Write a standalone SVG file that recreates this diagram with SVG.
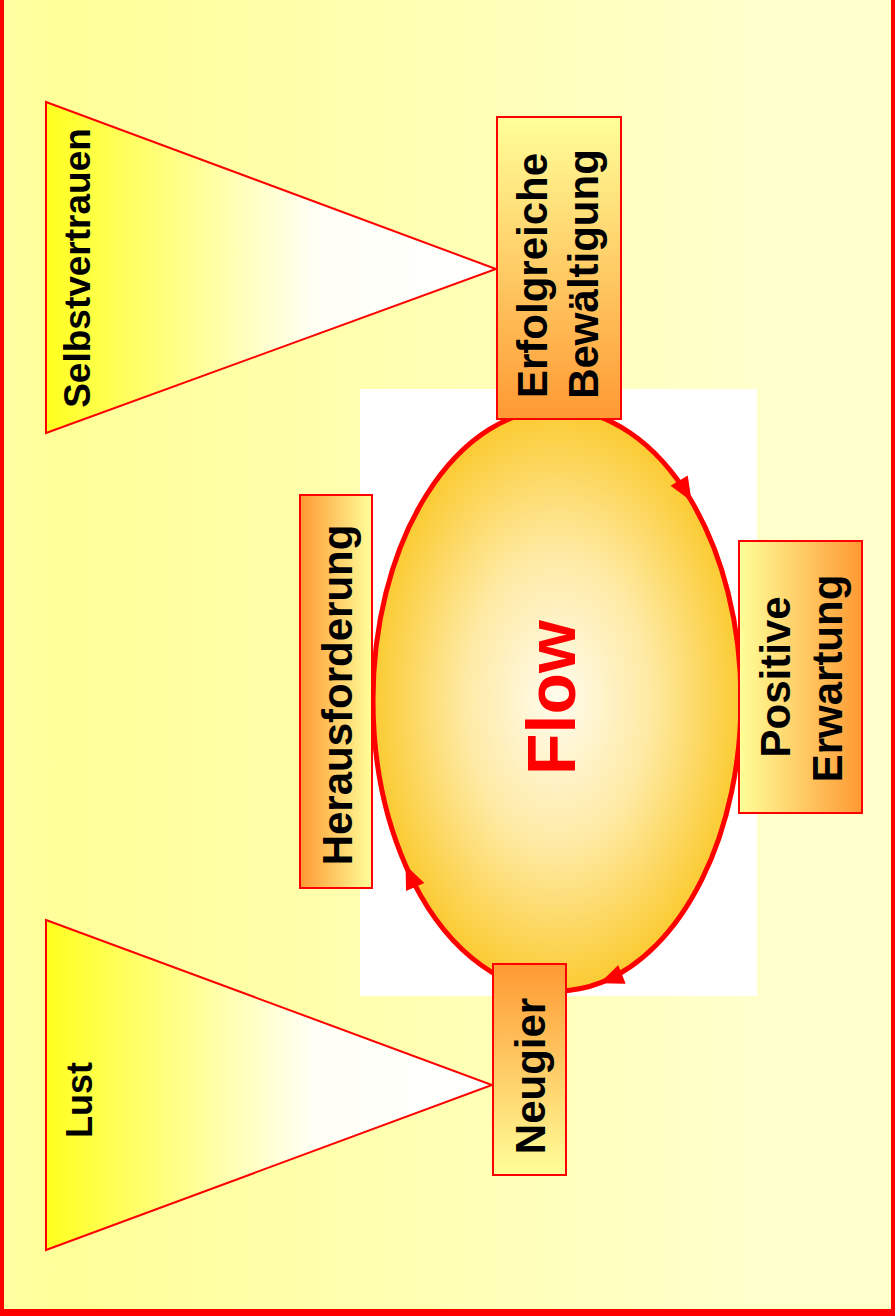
<svg xmlns="http://www.w3.org/2000/svg" width="895" height="1316" viewBox="0 0 895 1316">
  <defs>
    <linearGradient id="bgGrad" x1="0" y1="0" x2="1" y2="0">
      <stop offset="0" stop-color="#ffffa3"/>
      <stop offset="0.07" stop-color="#ffff99"/>
      <stop offset="0.85" stop-color="#ffffcc"/>
      <stop offset="1" stop-color="#ffffcc"/>
    </linearGradient>
    <linearGradient id="triGrad" x1="0" y1="0" x2="1" y2="0">
      <stop offset="0" stop-color="#ffff1e"/>
      <stop offset="0.6" stop-color="#fffff6"/>
      <stop offset="1" stop-color="#ffffff"/>
    </linearGradient>
    <radialGradient id="flowGrad" cx="0.5" cy="0.5" r="0.5">
      <stop offset="0" stop-color="#fffcee"/>
      <stop offset="0.5" stop-color="#feeaa4"/>
      <stop offset="1" stop-color="#fbcb32"/>
    </radialGradient>
    <!-- box fills: pale yellow fading to orange in four directions -->
    <linearGradient id="boxDown" x1="0" y1="0" x2="0" y2="1">
      <stop offset="0" stop-color="#ffff99"/>
      <stop offset="1" stop-color="#ff9933"/>
    </linearGradient>
    <linearGradient id="boxUp" x1="0" y1="1" x2="0" y2="0">
      <stop offset="0" stop-color="#ffff99"/>
      <stop offset="1" stop-color="#ff9933"/>
    </linearGradient>
    <linearGradient id="boxRight" x1="0" y1="0" x2="1" y2="0">
      <stop offset="0" stop-color="#ffff99"/>
      <stop offset="1" stop-color="#ff9933"/>
    </linearGradient>
    <linearGradient id="boxLeft" x1="1" y1="0" x2="0" y2="0">
      <stop offset="0" stop-color="#ffff99"/>
      <stop offset="1" stop-color="#ff9933"/>
    </linearGradient>
    <marker id="arrow" markerUnits="userSpaceOnUse" markerWidth="26" markerHeight="22" refX="22" refY="10" orient="auto" overflow="visible">
      <path d="M0,0 L24,10 L0,20 z" fill="#ff0000"/>
    </marker>
  </defs>
  <style>
    .box { stroke: #ff0000; stroke-width: 2; }
    .tri { fill: url(#triGrad); stroke: #ff0000; stroke-width: 2; }
    .lbl { font-family: "Liberation Sans", Arial, sans-serif; font-weight: bold; fill: #000000; text-anchor: middle; }
    .ring { fill: none; stroke: #ff0000; stroke-width: 5; }
  </style>

  <!-- background and frame -->
  <rect x="0" y="0" width="895" height="1316" fill="url(#bgGrad)"/>
  <rect x="2" y="-6" width="891" height="1317" fill="none" stroke="#ff0000" stroke-width="4"/>
  <rect x="0" y="1309" width="895" height="7" fill="#ff0000"/>

  <!-- side triangles -->
  <g id="selbstvertrauen">
    <polygon class="tri" points="46,102 46,433 496,269"/>
    <text class="lbl" font-size="37" transform="translate(90,268) rotate(-90)">Selbstvertrauen</text>
  </g>
  <g id="lust">
    <polygon class="tri" points="46,920 46,1250 492,1085"/>
    <text class="lbl" font-size="36" transform="translate(92,1100) rotate(-90)">Lust</text>
  </g>

  <!-- central flow ellipse -->
  <g id="flow">
    <rect x="360" y="389" width="397" height="607" fill="#ffffff"/>
    <ellipse cx="557" cy="700" rx="184" ry="291" fill="url(#flowGrad)"/>
    <text class="lbl" font-size="68" style="fill:#ff0000" transform="translate(575,697.5) rotate(-90)">Flow</text>
  </g>

  <!-- cycle around the ellipse (clockwise) -->
  <g id="connectors">
    <path class="ring" marker-mid="url(#arrow)" d="M557,409 A184,291 0 0 1 690.5,499.5 A184,291 0 0 1 741,700"/>
    <path class="ring" marker-mid="url(#arrow)" d="M741,700 A184,291 0 0 1 601.5,982.4 A184,291 0 0 1 557,991"/>
    <path class="ring" marker-mid="url(#arrow)" d="M557,991 A184,291 0 0 1 406.3,866.9 A184,291 0 0 1 373,700"/>
    <path class="ring" d="M373,700 A184,291 0 0 1 557,409"/>
  </g>

  <!-- stages of the cycle -->
  <g id="erfolgreiche-bewaeltigung">
    <rect class="box" x="497" y="117" width="124" height="302" fill="url(#boxDown)"/>
    <text class="lbl" font-size="42" transform="translate(547,275.5) rotate(-90)">Erfolgreiche</text>
    <text class="lbl" font-size="42" transform="translate(598,274) rotate(-90)">Bewältigung</text>
  </g>
  <g id="positive-erwartung">
    <rect class="box" x="739" y="541" width="123" height="272" fill="url(#boxRight)"/>
    <text class="lbl" font-size="42" transform="translate(790,677) rotate(-90)">Positive</text>
    <text class="lbl" font-size="42" transform="translate(842,678.5) rotate(-90)">Erwartung</text>
  </g>
  <g id="herausforderung">
    <rect class="box" x="300" y="495" width="72" height="393" fill="url(#boxLeft)"/>
    <text class="lbl" font-size="42" transform="translate(352,695) rotate(-90)">Herausforderung</text>
  </g>
  <g id="neugier">
    <rect class="box" x="493" y="964" width="73" height="211" fill="url(#boxUp)"/>
    <text class="lbl" font-size="42" transform="translate(545,1076) rotate(-90)">Neugier</text>
  </g>
</svg>
